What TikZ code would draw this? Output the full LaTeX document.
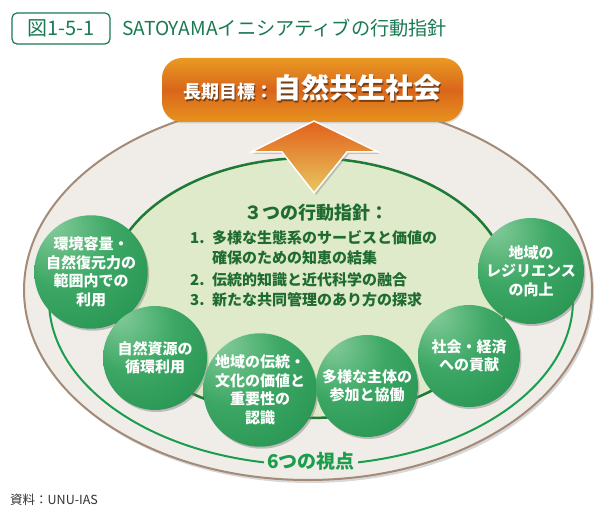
\documentclass[tikz,border=0pt]{standalone}
\usepackage{fontspec}
\setmainfont{Noto Sans CJK JP}
\usetikzlibrary{shadows}
\definecolor{outerfill}{HTML}{F0EDE9}
\definecolor{outerline}{HTML}{A38B77}
\definecolor{innerfill}{HTML}{DEEAC9}
\definecolor{innerline}{HTML}{1E7A35}
\definecolor{ringgreen}{HTML}{1A9E4C}
\definecolor{listgreen}{HTML}{1F6B30}
\definecolor{titlegreen}{HTML}{1B7A52}
\definecolor{gLight}{HTML}{86CC9C}
\definecolor{gMid}{HTML}{3DA865}
\definecolor{gDark}{HTML}{1F8C49}
\definecolor{gDeep}{HTML}{167537}
\definecolor{oTop}{HTML}{EA9A22}
\definecolor{oMid}{HTML}{D9661B}
\definecolor{oBot}{HTML}{E8921E}
\definecolor{aTop}{HTML}{E2601A}
\definecolor{aBot}{HTML}{E8C860}
\definecolor{footgrey}{HTML}{333333}
\pgfdeclareradialshading{gball}{\pgfpoint{-18bp}{22bp}}{color(0bp)=(gLight); color(22bp)=(gMid); color(52bp)=(gDark); color(80bp)=(gDeep)}
\tikzset{
  ball/.style={circle, shading=gball, draw=none, text=white, align=center,
    font=\bfseries\fontsize{15}{18.5}\selectfont, inner sep=0pt,
    drop shadow={opacity=0.45, shadow xshift=1.5pt, shadow yshift=-2pt}},
  listtext/.style={text=listgreen, font=\bfseries\fontsize{15}{18}\selectfont, inner sep=0pt},
  goalbox/.style={rounded corners=20pt, top color=oTop, bottom color=oBot, middle color=oMid,
    draw=none, drop shadow={opacity=0.25, shadow xshift=1pt, shadow yshift=-1.5pt}},
  arrowshape/.style={draw=white, line width=1.5pt, line join=miter, top color=aTop, bottom color=aBot,
    drop shadow={opacity=0.4, shadow xshift=2pt, shadow yshift=-2pt}},
}
\begin{document}
\begin{tikzpicture}[x=1pt,y=-1pt]
\useasboundingbox[fill=white] (0,0) rectangle (610,518);

% title
\node[draw=titlegreen, line width=1.2pt, rounded corners=5pt, minimum width=98pt, minimum height=31pt,
  inner sep=0pt, text=titlegreen, font=\fontsize{20}{20}\selectfont] (fig) at (61,28.5) {図1-5-1};
\node[anchor=west, inner sep=0pt, text=titlegreen, font=\fontsize{19.2}{19.2}\selectfont] (title)
  at (122,28.5) {SATOYAMAイニシアティブの行動指針};

% outer ellipse
\path[fill=outerfill, draw=outerline, line width=2pt,
  drop shadow={opacity=0.3, shadow xshift=2pt, shadow yshift=-3pt}]
  (308,290) ellipse [x radius=284, y radius=190];

% inner ellipse
\path[fill=innerfill, draw=innerline, line width=2.5pt] (309,288) ellipse [x radius=200, y radius=130];

% ring (6 viewpoints)
\begin{scope}
\clip (0,292) rectangle (610,518);
\draw[ringgreen, line width=2pt] (311,300) ellipse [x radius=262, y radius=165];
\end{scope}

% goal box
\node[goalbox, minimum width=301pt, minimum height=64pt] (goal) at (312.5,90) {};
\node[anchor=base, inner sep=0pt, text=black, opacity=0.45] at (313.8,100.3)
  {\bfseries\fontsize{18}{18}\selectfont 長期目標：\fontsize{28}{28}\selectfont 自然共生社会};
\node[anchor=base, inner sep=0pt, text=white] (goaltext) at (312.5,99)
  {\bfseries\fontsize{18}{18}\selectfont 長期目標：\fontsize{28}{28}\selectfont 自然共生社会};

% arrow
\draw[arrowshape] (314,121) -- (378,152) -- (347,152) -- (314,193) -- (282,152) -- (251,152) -- cycle;

% list
\node[anchor=base, text=listgreen, inner sep=0pt, font=\bfseries\fontsize{18}{18}\selectfont] (head)
  at (316,220) {３つの行動指針：};
\node[listtext, anchor=base west] (l1) at (190,244) {\makebox[22pt][l]{1.}多様な生態系のサービスと価値の};
\node[listtext, anchor=base west] (l1b) at (212,264) {確保のための知恵の結集};
\node[listtext, anchor=base west] (l2) at (190,286) {\makebox[22pt][l]{2.}伝統的知識と近代科学の融合};
\node[listtext, anchor=base west] (l3) at (190,306) {\makebox[22pt][l]{3.}新たな共同管理のあり方の探求};

% six circles
\node[ball, minimum size=98pt] (c1) at (91,272) {環境容量・\\自然復元力の\\範囲内での\\利用};
\node[ball, minimum size=104pt] (c2) at (155,358) {自然資源の\\循環利用};
\node[ball, minimum size=104pt] (c3) at (260,390) {地域の伝統・\\文化の価値と\\重要性の\\認識};
\node[ball, minimum size=102pt] (c4) at (367,386) {多様な主体の\\参加と協働};
\node[ball, minimum size=102pt] (c5) at (469,356) {社会・経済\\への貢献};
\node[ball, minimum size=106pt] (c6) at (531,271) {地域の\\レジリエンス\\の向上};

% ring label
\node[fill=outerfill, inner xsep=3pt, inner ysep=1pt, text=ringgreen,
  font=\bfseries\fontsize{19}{19}\selectfont] (six) at (311,461) {6つの視点};

% footer
\node[anchor=west, inner sep=0pt, text=footgrey, font=\fontsize{12.5}{12.5}\selectfont] (src)
  at (10,500) {資料：UNU-IAS};
\end{tikzpicture}
\end{document}
